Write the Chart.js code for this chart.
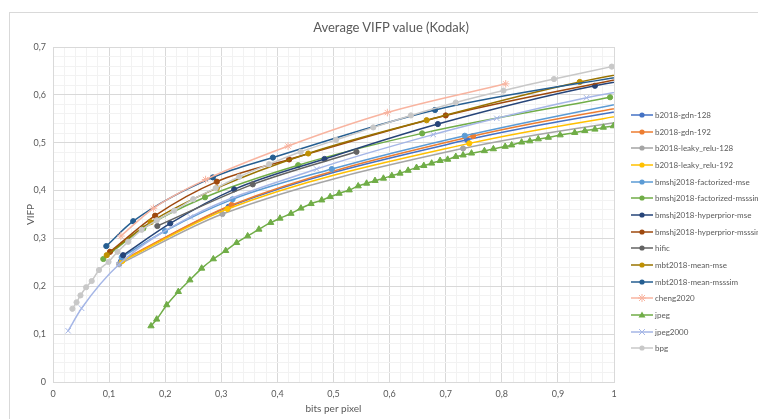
<!DOCTYPE html>
<html>
<head>
<meta charset="utf-8">
<script src="https://cdn.jsdelivr.net/npm/chart.js"></script>
<style>
  html, body { margin: 0; padding: 0; background: #fff; overflow: hidden; }
  #wrap { position: relative; width: 758px; height: 419px; overflow: hidden; font-family: Lato, "Open Sans", sans-serif; color: #595959; }
  #frame { position: absolute; left: 9px; top: 12px; width: 800px; height: 450px; border: 1px solid #D9D9D9; }
  #title { position: absolute; left: 241px; width: 300px; top: 19px; text-align: center; font-size: 13px; }
  #chart { position: absolute; left: 0; top: 0; }
  .item { position: absolute; left: 631px; height: 14px; display: flex; align-items: center; white-space: nowrap; font-size: 8px; }
  .item svg { margin-right: 2px; }
</style>
</head>
<body>
<div id="wrap">
  <div id="frame"></div>
  <canvas id="chart" width="758" height="419"></canvas>
  <div id="title">Average VIFP value (Kodak)</div>
  <div id="legend"></div>
</div>
<script>
// series names (legend order)
const seriesNames = [
  'b2018-gdn-128', 'b2018-gdn-192', 'b2018-leaky_relu-128', 'b2018-leaky_relu-192',
  'bmshj2018-factorized-mse', 'bmshj2018-factorized-msssim', 'bmshj2018-hyperprior-mse',
  'bmshj2018-hyperprior-msssim', 'hific', 'mbt2018-mean-mse', 'mbt2018-mean-msssim',
  'cheng2020', 'jpeg', 'jpeg2000', 'bpg'
];

// bits per pixel / VIFP (points past 1 bpp are cut by the axis)
const gdn128Bpp = [0.121, 0.313, 0.738, 1.1];
const gdn128Vifp = [0.252, 0.366, 0.506, 0.585];
const gdn192Bpp = [0.124, 0.3185, 0.749, 1.1];
const gdn192Vifp = [0.255, 0.370, 0.514, 0.592];
const leaky128Bpp = [0.118, 0.302, 0.731, 1.1];
const leaky128Vifp = [0.246, 0.351, 0.488, 0.56];
const leaky192Bpp = [0.1235, 0.311, 0.742, 1.1];
const leaky192Vifp = [0.253, 0.3615, 0.4986, 0.574];
const factMseBpp = [0.1224, 0.1996, 0.320, 0.497, 0.734, 1.1];
const factMseVifp = [0.2605, 0.3155, 0.3817, 0.445, 0.5146, 0.603];
const factSsimBpp = [0.0897, 0.161, 0.271, 0.437, 0.658, 0.993];
const factSsimVifp = [0.257, 0.321, 0.386, 0.453, 0.5195, 0.595];
const hypMseBpp = [0.125, 0.209, 0.323, 0.484, 0.686, 0.966, 1.3];
const hypMseVifp = [0.265, 0.3315, 0.4026, 0.466, 0.539, 0.619, 0.68];
const hypSsimBpp = [0.1016, 0.182, 0.292, 0.421, 0.700, 1.05];
const hypSsimVifp = [0.272, 0.3475, 0.4186, 0.465, 0.557, 0.643];
const hificBpp = [0.186, 0.356, 0.541];
const hificVifp = [0.326, 0.413, 0.481];
const meanMseBpp = [0.0957, 0.174, 0.292, 0.455, 0.666, 0.939, 1.25];
const meanMseVifp = [0.265, 0.334, 0.405, 0.4775, 0.547, 0.627, 0.69];
const meanSsimBpp = [0.095, 0.143, 0.285, 0.392, 0.681, 1.05];
const meanSsimVifp = [0.284, 0.336, 0.4275, 0.469, 0.5685, 0.646];
const chengBpp = [0.121, 0.179, 0.272, 0.419, 0.596, 0.807];
const chengVifp = [0.305, 0.363, 0.423, 0.493, 0.563, 0.623];
const jpegBpp = [0.1747, 0.1848, 0.2027, 0.2234, 0.244, 0.265, 0.2858, 0.3078, 0.3274, 0.347,
  0.367, 0.388, 0.4046, 0.4242, 0.442, 0.46, 0.479, 0.494, 0.510, 0.528, 0.544, 0.559, 0.574,
  0.589, 0.604, 0.6185, 0.633, 0.648, 0.661, 0.675, 0.690, 0.7035, 0.718, 0.731, 0.746, 0.769,
  0.785, 0.806, 0.8176, 0.8354, 0.850, 0.865, 0.883, 0.904, 0.930, 0.948, 0.966, 0.981, 0.999];
const jpegVifp = [0.117, 0.131, 0.161, 0.1887, 0.213, 0.2375, 0.257, 0.2743, 0.291, 0.305,
  0.319, 0.333, 0.342, 0.352, 0.363, 0.3725, 0.380, 0.387, 0.394, 0.401, 0.4095, 0.415, 0.4207,
  0.4255, 0.431, 0.436, 0.442, 0.448, 0.452, 0.457, 0.4625, 0.465, 0.471, 0.474, 0.478, 0.483,
  0.487, 0.492, 0.495, 0.501, 0.5035, 0.5077, 0.511, 0.516, 0.521, 0.525, 0.528, 0.532, 0.535];
const j2kBpp = [0.027, 0.051, 0.117, 0.245, 0.47, 0.678, 0.791, 0.951, 1.1];
const j2kVifp = [0.107, 0.154, 0.245, 0.345, 0.445, 0.517, 0.551, 0.594, 0.625];
const bpgBpp = [0.0345, 0.042, 0.049, 0.059, 0.069, 0.082, 0.099, 0.115, 0.134, 0.158, 0.185, 0.216,
  0.25, 0.29, 0.332, 0.385, 0.4415, 0.5045, 0.571, 0.638, 0.718, 0.803, 0.893, 0.996];
const bpgVifp = [0.153, 0.1665, 0.181, 0.198, 0.211, 0.234, 0.251, 0.272, 0.293, 0.318, 0.338, 0.358,
  0.382, 0.405, 0.429, 0.455, 0.481, 0.506, 0.532, 0.557, 0.584, 0.609, 0.633, 0.659];

const seriesBpp = [gdn128Bpp, gdn192Bpp, leaky128Bpp, leaky192Bpp, factMseBpp, factSsimBpp, hypMseBpp,
  hypSsimBpp, hificBpp, meanMseBpp, meanSsimBpp, chengBpp, jpegBpp, j2kBpp, bpgBpp];
const seriesVifp = [gdn128Vifp, gdn192Vifp, leaky128Vifp, leaky192Vifp, factMseVifp, factSsimVifp, hypMseVifp,
  hypSsimVifp, hificVifp, meanMseVifp, meanSsimVifp, chengVifp, jpegVifp, j2kVifp, bpgVifp];

// styles
const lineColors = ['#4472C4', '#ED7D31', '#A5A5A5', '#FFC000', '#5B9BD5', '#70AD47', '#264478',
  '#9E480E', '#636363', '#997300', '#255E91', '#F8B4A0', '#70AD47', '#A5B6E6', '#C8C8C8'];
const markerColors = ['#4472C4', '#ED7D31', '#A5A5A5', '#FFC000', '#5B9BD5', '#70AD47', '#264478',
  '#9E480E', '#636363', '#BF9000', '#255E91', '#F8B4A0', '#70AD47', '#A5B6E6', '#C8C8C8'];
const markerTypes = ['circle', 'circle', 'circle', 'circle', 'circle', 'circle', 'circle',
  'circle', 'circle', 'circle', 'circle', 'star', 'triangle', 'crossRot', 'circle'];

const FONT = 'Lato, "Open Sans", sans-serif';
const GREY_TEXT = '#595959';

const isMajor = v => Math.abs(v * 10 - Math.round(v * 10)) < 1e-6;
const fmt = v => String(Math.round(v * 10) / 10).replace('.', ',');

function markerRadius(type) {
  if (type === 'triangle') return 3.6;
  if (type === 'circle') return 2.6;
  return 3.8;
}

const datasets = seriesNames.map((name, i) => ({
  label: name,
  data: seriesBpp[i].map((x, j) => ({ x: x, y: seriesVifp[i][j] })),
  showLine: true,
  borderColor: lineColors[i],
  backgroundColor: markerColors[i],
  borderWidth: 1.5,
  cubicInterpolationMode: 'monotone',
  pointStyle: markerTypes[i],
  pointRadius: markerRadius(markerTypes[i]),
  pointBackgroundColor: markerColors[i],
  pointBorderColor: markerColors[i],
  pointBorderWidth: 1,
  order: -i
}));

new Chart(document.getElementById('chart'), {
  type: 'scatter',
  data: { datasets: datasets },
  options: {
    responsive: false,
    animation: false,
    layout: { padding: { top: 47, right: 144, left: 0, bottom: 0 } },
    plugins: {
      legend: { display: false },
      title: { display: false },
      tooltip: { enabled: false }
    },
    scales: {
      x: {
        type: 'linear',
        min: 0,
        max: 1,
        afterFit: s => { s.height = 37; },
        ticks: {
          stepSize: 0.02,
          autoSkip: false,
          maxRotation: 0,
          padding: 7,
          color: GREY_TEXT,
          font: { family: FONT, size: 9 },
          callback: v => isMajor(v) ? fmt(v) : ''
        },
        grid: {
          drawTicks: false,
          color: c => isMajor(c.tick.value) ? '#D9D9D9' : '#F2F2F2'
        },
        border: { color: '#D9D9D9' },
        title: {
          display: true,
          text: 'bits per pixel',
          color: GREY_TEXT,
          font: { family: FONT, size: 10 },
          padding: { top: 0, bottom: 4 }
        }
      },
      y: {
        min: 0,
        max: 0.7,
        afterFit: s => { s.width = 53; },
        ticks: {
          stepSize: 0.02,
          autoSkip: false,
          padding: 7,
          color: GREY_TEXT,
          font: { family: FONT, size: 9 },
          callback: v => isMajor(v) ? fmt(v) : ''
        },
        grid: {
          drawTicks: false,
          color: c => isMajor(c.tick.value) ? '#D9D9D9' : '#F2F2F2'
        },
        border: { color: '#D9D9D9' },
        title: {
          display: true,
          text: 'VIFP',
          color: GREY_TEXT,
          font: { family: FONT, size: 10 },
          padding: { top: 25, bottom: 0 }
        }
      }
    }
  }
});

// legend: short line with the marker, like the spreadsheet one
function legendIcon(i) {
  const c = lineColors[i], m = markerColors[i], t = markerTypes[i];
  let mark = '';
  if (t === 'circle') {
    mark = `<circle cx="11" cy="5" r="2.6" fill="${m}"/>`;
  } else if (t === 'triangle') {
    mark = `<polygon points="11,1.5 14.5,7.5 7.5,7.5" fill="${m}"/>`;
  } else if (t === 'crossRot') {
    mark = `<path d="M8,2 L14,8 M14,2 L8,8" stroke="${m}" stroke-width="1"/>`;
  } else {
    mark = `<path d="M8,2 L14,8 M14,2 L8,8 M11,1 L11,9 M7,5 L15,5" stroke="${m}" stroke-width="1"/>`;
  }
  return `<svg width="22" height="10"><line x1="0" y1="5" x2="22" y2="5" stroke="${c}" stroke-width="1.5"/>${mark}</svg>`;
}

const legend = document.getElementById('legend');
seriesNames.forEach((name, i) => {
  const row = document.createElement('div');
  row.className = 'item';
  row.style.top = (115 + i * 16.67 - 7) + 'px';
  row.innerHTML = legendIcon(i) + '<span>' + name + '</span>';
  legend.appendChild(row);
});
</script>
</body>
</html>
